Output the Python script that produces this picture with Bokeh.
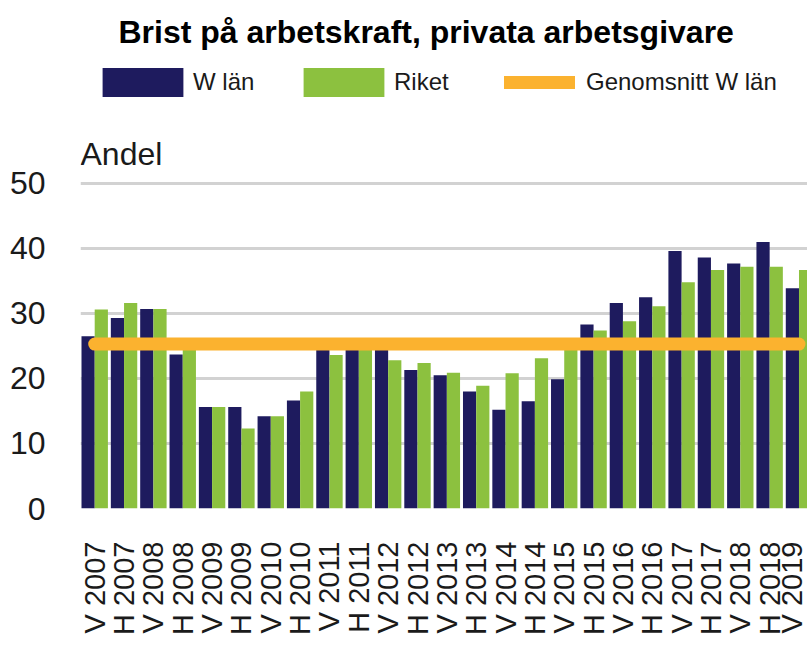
import math
from bokeh.plotting import figure
from bokeh.models import Range1d, FixedTicker, Legend, LegendItem, Label, ColumnDataSource
from bokeh.transform import dodge
from bokeh.embed import file_html
from bokeh.resources import INLINE

categories = ["V 2007", "H 2007", "V 2008", "H 2008", "V 2009", "H 2009", "V 2010",
              "H 2010", "V 2011", "H 2011", "V 2012", "H 2012", "V 2013", "H 2013",
              "V 2014", "H 2014", "V 2015", "H 2015", "V 2016", "H 2016", "V 2017",
              "H 2017", "V 2018", "H 2018", "V 2019"]
w_lan = [26.5, 29.3, 30.7, 23.7, 15.6, 15.6, 14.2, 16.6, 25.0, 25.0, 24.8, 21.3, 20.5,
         18.0, 15.2, 16.5, 19.9, 28.3, 31.6, 32.5, 39.6, 38.6, 37.7, 41.0, 33.9]
riket = [30.6, 31.6, 30.7, 25.0, 15.6, 12.3, 14.2, 18.0, 23.6, 24.6, 22.8, 22.4, 20.9,
         18.9, 20.8, 23.1, 24.8, 27.4, 28.8, 31.1, 34.8, 36.7, 37.2, 37.2, 36.7]
genomsnitt_w_lan = 25.3
y_ticks = [0, 10, 20, 30, 40, 50]

DARK = "#1e1b5e"
GREEN = "#8cc13f"
ORANGE = "#fbb22f"
TXT = "#1a1a1a"
SANS = "'Liberation Sans', Arial, sans-serif"

xs = list(range(len(categories)))
src = ColumnDataSource(dict(x=xs, w_lan=w_lan, riket=riket))
BAR_W = 0.45

p = figure(width=807, height=659, output_backend="svg", toolbar_location=None,
           x_range=Range1d(-0.484, 24.29), y_range=Range1d(0, 68.92),
           min_border_left=80, min_border_right=0, min_border_top=60, min_border_bottom=151,
           outline_line_color=None, background_fill_color="white", border_fill_color="white")

p.title.text = "Brist på arbetskraft, privata arbetsgivare"
p.title.text_font = SANS
p.title.text_font_style = "bold"
p.title.text_font_size = "32px"
p.title.text_color = "black"
p.title.align = "left"
p.title.offset = 38
p.title.vertical_align = "middle"
p.title.standoff = 20

r_dark = p.vbar(x=dodge("x", -BAR_W / 2, range=p.x_range), top="w_lan", bottom=0,
                width=BAR_W, source=src, fill_color=DARK, line_color=None)
r_green = p.vbar(x=dodge("x", BAR_W / 2, range=p.x_range), top="riket", bottom=0,
                 width=BAR_W, source=src, fill_color=GREEN, line_color=None)
r_avg = p.line(x=[xs[0], xs[-1]], y=[genomsnitt_w_lan, genomsnitt_w_lan],
               line_color=ORANGE, line_width=13, line_cap="round")

# axes
p.xaxis.ticker = FixedTicker(ticks=xs)
p.xaxis.major_label_overrides = {i: c for i, c in enumerate(categories)}
p.xaxis.major_label_orientation = math.pi / 2
p.xaxis.major_label_text_font = SANS
p.xaxis.major_label_text_font_size = "29px"
p.xaxis.major_label_text_color = TXT
p.xaxis.major_label_standoff = 27
p.xaxis.axis_line_color = None
p.xaxis.major_tick_line_color = None
p.xaxis.minor_tick_line_color = None

p.yaxis.ticker = FixedTicker(ticks=y_ticks)
p.yaxis.major_label_text_font = SANS
p.yaxis.major_label_text_font_size = "32px"
p.yaxis.major_label_text_color = TXT
p.yaxis.major_label_standoff = 29
p.yaxis.axis_line_color = None
p.yaxis.major_tick_line_color = None
p.yaxis.minor_tick_line_color = None

p.xgrid.visible = False
p.ygrid.ticker = FixedTicker(ticks=y_ticks)
p.ygrid.grid_line_color = "#d2d2d2"
p.ygrid.grid_line_width = 3

p.add_layout(Label(x=p.x_range.start, y=54.6, text="Andel", text_font=SANS,
                   text_font_size="32px", text_color=TXT, text_baseline="alphabetic"))

def make_legend(label, renderer, loc, gw, gh, standoff):
    return Legend(items=[LegendItem(label=label, renderers=[renderer])], location=loc,
                  orientation="horizontal", glyph_width=gw, glyph_height=gh,
                  label_standoff=standoff, padding=0, margin=0, border_line_color=None,
                  background_fill_alpha=0, label_text_font=SANS,
                  label_text_font_size="24px", label_text_color=TXT, label_height=36)

p.add_layout(make_legend("W län", r_dark, (12, 408), 101, 36, -12), "center")
p.add_layout(make_legend("Riket", r_green, (213, 408), 101, 36, -7), "center")
p.add_layout(make_legend("Genomsnitt W län", r_avg, (424, 408), 71, 36, 11), "center")

open("out.html", "w").write(file_html(p, INLINE))
